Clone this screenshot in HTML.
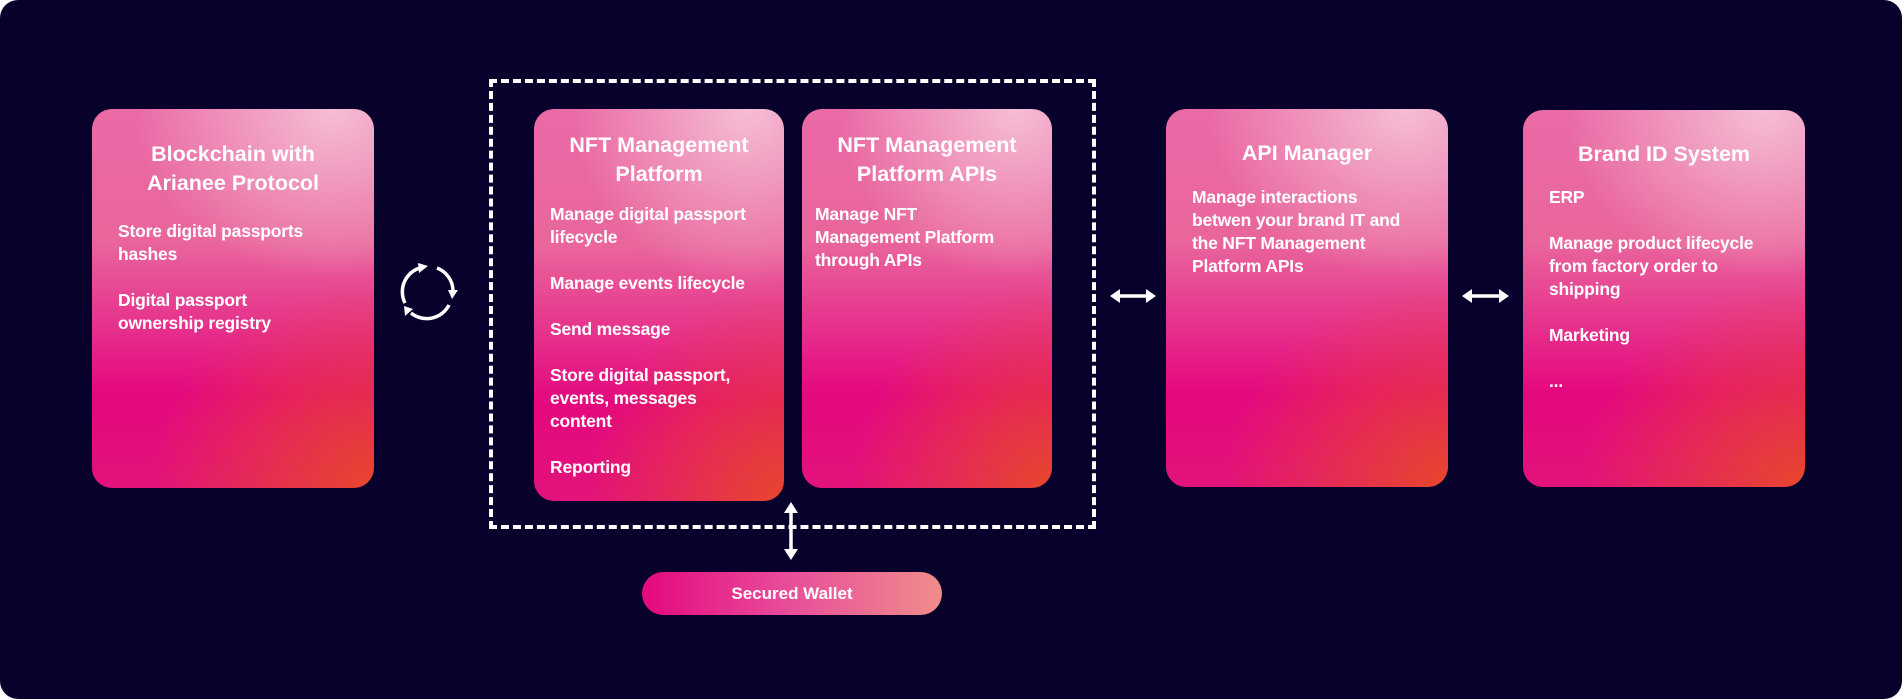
<!DOCTYPE html>
<html><head><meta charset="utf-8"><style>
*{margin:0;padding:0;box-sizing:border-box}
html,body{width:1902px;height:699px;background:#fff;overflow:hidden}
#bg{position:absolute;left:0;top:0;width:1902px;height:699px;background:#08012b;border-radius:18px}
.card{position:absolute;border-radius:20px;color:#fff;font-family:"Liberation Sans",sans-serif;font-weight:bold;
background:
radial-gradient(ellipse 70% 45% at 85% 0%, rgba(245,190,212,1) 0%, rgba(245,190,212,0) 100%),
radial-gradient(ellipse 80% 55% at 100% 100%, rgba(232,70,45,1) 0%, rgba(232,70,45,0) 100%),
linear-gradient(180deg,#ea6aa6 0%,#e9659c 35%,#e4087f 75%,#e2137a 100%);}
.card h2{font-size:21.5px;line-height:29px;text-align:center;font-weight:bold;white-space:nowrap}
.card .b{padding:0 0 0 26px;font-size:17.5px;line-height:23px;white-space:nowrap;letter-spacing:-0.2px}
.card .b p{margin-bottom:23px}
#dash{position:absolute;left:489px;top:79px;width:607px;height:450px;border:4px dashed #fff}
#wallet{position:absolute;left:642px;top:572px;width:300px;height:43px;border-radius:22px;
background:linear-gradient(90deg,#e4087f 0%,#e94f9a 50%,#ef8d8a 100%);color:#fff;font:bold 17px/43px "Liberation Sans",sans-serif;text-align:center}
</style></head><body>
<div id="bg"></div>
<div id="dash"></div>
<div class="card" style="left:92px;top:109px;width:282px;height:379px;padding-top:31px">
<h2>Blockchain with<br>Arianee Protocol</h2>
<div class="b" style="margin-top:22px"><p>Store digital passports<br>hashes</p><p>Digital passport<br>ownership registry</p></div></div>
<div class="card" style="left:534px;top:109px;width:250px;height:392px;padding-top:22px">
<h2>NFT Management<br>Platform</h2>
<div class="b" style="margin-top:14px;padding-left:16px"><p>Manage digital passport<br>lifecycle</p><p>Manage events lifecycle</p><p>Send message</p><p>Store digital passport,<br>events, messages<br>content</p><p>Reporting</p></div></div>
<div class="card" style="left:802px;top:109px;width:250px;height:379px;padding-top:22px">
<h2>NFT Management<br>Platform APIs</h2>
<div class="b" style="margin-top:14px;padding-left:13px"><p>Manage NFT<br>Management Platform<br>through APIs</p></div></div>
<div class="card" style="left:1166px;top:109px;width:282px;height:378px;padding-top:30px">
<h2>API Manager</h2>
<div class="b" style="margin-top:18px"><p>Manage interactions<br>betwen your brand IT and<br>the NFT Management<br>Platform APIs</p></div></div>
<div class="card" style="left:1523px;top:110px;width:282px;height:377px;padding-top:30px">
<h2>Brand ID System</h2>
<div class="b" style="margin-top:17px"><p>ERP</p><p>Manage product lifecycle<br>from factory order to<br>shipping</p><p>Marketing</p><p>...</p></div></div>
<div id="wallet">Secured Wallet</div>
<svg width="1902" height="699" style="position:absolute;left:0;top:0">
<g stroke="#fff" stroke-width="3.5" fill="none">
<path d="M424 267 A25 25 0 0 0 405 303"/>
<path d="M437 268 A25 25 0 0 1 453 290"/>
<path d="M449 305 A25 25 0 0 1 411 313"/>
<line x1="1114" y1="296" x2="1152" y2="296"/>
<line x1="1466" y1="296" x2="1505" y2="296"/>
<line x1="791" y1="506" x2="791" y2="556"/>
</g>
<g fill="#fff">
<polygon points="418,263 428,266 419,273"/>
<polygon points="448,290 458,290 452,299"/>
<polygon points="404,306 413,309 405,316"/>
<polygon points="1110,296 1120,289 1120,303"/>
<polygon points="1156,296 1146,289 1146,303"/>
<polygon points="1462,296 1472,289 1472,303"/>
<polygon points="1509,296 1499,289 1499,303"/>
<polygon points="791,502 784,513 798,513"/>
<polygon points="791,560 784,549 798,549"/>
</g></svg>
</body></html>
